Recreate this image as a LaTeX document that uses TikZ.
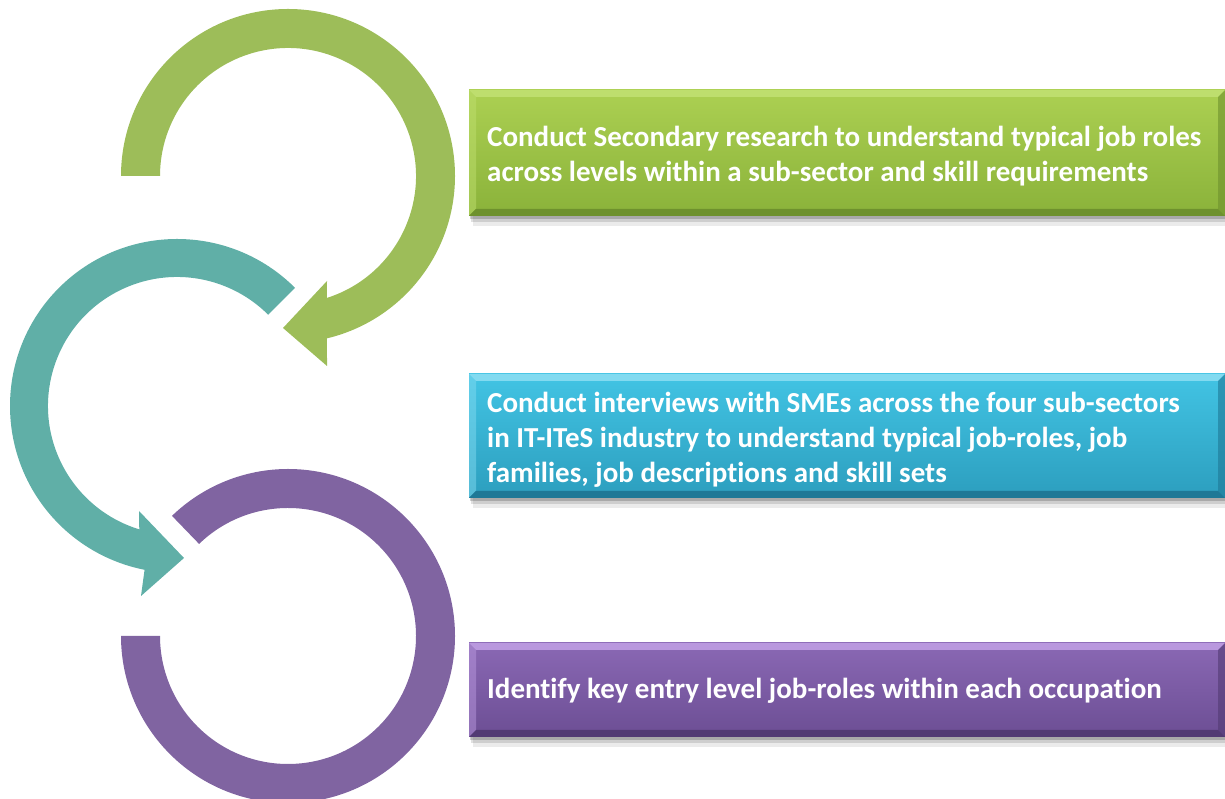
\documentclass[tikz,border=0pt]{standalone}
\usepackage{fontspec}
\setmainfont[Ligatures=CommonOff]{Carlito}
\definecolor{garc}{RGB}{157,189,89}
\definecolor{tarc}{RGB}{96,175,167}
\definecolor{parc}{RGB}{128,100,161}
\definecolor{gtop}{RGB}{172,208,82}
\definecolor{gbot}{RGB}{138,178,58}
\definecolor{glight}{RGB}{190,222,110}
\definecolor{gdark}{RGB}{110,145,45}
\definecolor{ttop}{RGB}{66,196,228}
\definecolor{tbot}{RGB}{44,158,190}
\definecolor{tlight}{RGB}{130,218,240}
\definecolor{tdark}{RGB}{30,120,150}
\definecolor{ptop}{RGB}{138,104,180}
\definecolor{pbot}{RGB}{108,78,148}
\definecolor{plight}{RGB}{185,152,222}
\definecolor{pdark}{RGB}{82,58,115}
\newcommand\bevbox[3]{%
 \fill[black,opacity=0.08] (473,#1-10) rectangle (1225,#2-5);
 \fill[black,opacity=0.12] (471,#1-6) rectangle (1225,#2-4);
 \fill[black,opacity=0.18] (470,#1-3) rectangle (1225,#2-3);
 \shade[top color=#3top,bottom color=#3bot] (469,#1) rectangle (1225,#2);
 \fill[#3light] (469,#2) -- (1225,#2) -- (1218,#2-7) -- (476,#2-7) -- cycle;
 \fill[#3light,opacity=.5] (469,#1) -- (469,#2) -- (476,#2-7) -- (476,#1+7) -- cycle;
 \fill[#3dark] (469,#1) -- (1225,#1) -- (1218,#1+7) -- (476,#1+7) -- cycle;
 \fill[#3dark,opacity=.6] (1225,#1) -- (1225,#2) -- (1218,#2-7) -- (1218,#1+7) -- cycle;
}
\begin{document}
\begin{tikzpicture}[x=1pt,y=1pt,
  steptext/.style={anchor=west,align=left,text=white,inner sep=0pt,
    font=\fontsize{29}{35}\selectfont\bfseries}]
\useasboundingbox (0,0) rectangle (1225,799);
\clip (0,0) rectangle (1225,799);
% green circular arrow
\begin{scope}[shift={(288,623)}]
\fill[garc] (180:167) arc[start angle=180,end angle=-76.5,radius=167]
  -- (39,-190) -- (-5,-152) -- (39,-105) -- (-72.3:128)
  arc[start angle=-72.3,end angle=180,radius=128] -- cycle;
\end{scope}
% teal circular arrow
\begin{scope}[shift={(177,393)}]
\fill[tarc] (45:167) arc[start angle=45,end angle=258.8,radius=167]
  -- (-36,-190) -- (7,-152) -- (-38,-105) -- (253:129)
  arc[start angle=253,end angle=45,radius=129] -- cycle;
\end{scope}
% purple ring
\begin{scope}[shift={(288,163)}]
\fill[parc] (180:167) arc[start angle=180,end angle=494,radius=167]
  -- (494:128) arc[start angle=494,end angle=180,radius=128] -- cycle;
\end{scope}
% boxes
\bevbox{583}{709}{g}
\bevbox{301}{425}{t}
\bevbox{62}{156}{p}
\node[steptext] (t1) at (487,642.5) {Conduct Secondary research to understand typical job roles\\across levels within a sub-sector and skill requirements};
\node[steptext] (t2) at (487,359) {Conduct interviews with SMEs across the four sub-sectors\\in IT-ITeS industry to understand typical job-roles, job\\families, job descriptions and skill sets};
\node[steptext] (t3) at (487,108) {Identify key entry level job-roles within each occupation};
\end{tikzpicture}
\end{document}
